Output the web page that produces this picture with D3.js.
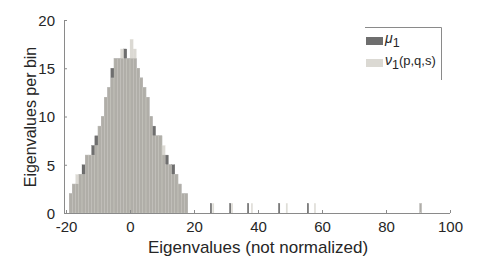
<!DOCTYPE html>
<html>
<head>
<meta charset="utf-8">
<script src="https://cdn.jsdelivr.net/npm/d3@7"></script>
<style>
  body { margin: 0; background: #fff; }
  svg text { font-family: "Liberation Sans", Arial, sans-serif; fill: #262626; }
</style>
</head>
<body>
<svg id="chart" width="498" height="258"></svg>
<script>
// histogram bins (width 1) starting at -19
var binStart = -19,
	binWidth = 1;
var muCounts = [2,3,3,4,5,6,6,7,8,9,10,12,13,15,16,16,16,17,16,16,16,15,14,13,12,10,9,8,8,6,6,5,5,4,3,2,2];
var nuCounts = [2,3,4,4,4,6,6,6,7,9,10,12,13,14,16,16,17,16,16,18,17,15,14,13,12,10,8,8,8,7,5,5,4,4,3,2,2];
// isolated large eigenvalues, one per bin
var muOutliers = [25.3, 31.3, 36.9, 46.6, 55.6, 90.8];
var nuOutliers = [26.0, 31.9, 38.1, 49.0, 57.8, 90.8];
var outlierWidth = 0.45;
var xTicks = [-20, 0, 20, 40, 60, 80, 100];
var yTicks = [0, 5, 10, 15, 20];
var seriesNames = ['\u03bc', '\u03bd'];

(function() {
	var svg = d3.select('#chart');

	var x = d3.scaleLinear()
		.domain([-20, 100])
		.range([66, 450]);

	var y = d3.scaleLinear()
		.domain([0, 20])
		.range([213, 20]);

	var darkColor = '#6e6e6e',
		lightColor = '#ccc9c0',
		lightAlpha = 0.7;

	function toBins(counts) {
		return counts.map(function(c, i) {
			return {x0: binStart + i*binWidth, x1: binStart + (i+1)*binWidth, n: c};
		});
	}
	function outlierBins(vals) {
		return vals.map(function(v) {
			return {x0: v - outlierWidth/2, x1: v + outlierWidth/2, n: 1};
		});
	}

	var muBins = toBins(muCounts).concat(outlierBins(muOutliers)),
		nuBins = toBins(nuCounts).concat(outlierBins(nuOutliers));

	function drawBars(cls, data, fill, alpha, stroke) {
		svg.append('g')
			.attr('class', cls)
			.selectAll('rect')
			.data(data)
			.enter()
			.append('rect')
			.attr('x', function(d) { return x(d.x0); })
			.attr('width', function(d) { return x(d.x1) - x(d.x0); })
			.attr('y', function(d) { return y(d.n); })
			.attr('height', function(d) { return y(0) - y(d.n); })
			.attr('fill', fill)
			.attr('fill-opacity', alpha)
			.attr('stroke', stroke)
			.attr('stroke-width', 0.4)
			.attr('stroke-opacity', 0.6);
	}

	drawBars('mu-bars', muBins, darkColor, 1, '#5a5a5a');
	drawBars('nu-bars', nuBins, lightColor, lightAlpha, '#e4e2dc');

	// axes (plain hyphen for negatives, like the original)
	var fmt = function(d) { return String(d); };

	var xAxis = svg.append('g')
		.attr('transform', 'translate(0,' + y(0) + ')')
		.call(d3.axisBottom(x).tickValues(xTicks).tickFormat(fmt).tickSize(-3).tickPadding(8));

	var yAxis = svg.append('g')
		.attr('transform', 'translate(' + 64 + ',0)')
		.call(d3.axisLeft(y).tickValues(yTicks).tickFormat(fmt).tickSize(-3).tickPadding(9));

	[xAxis, yAxis].forEach(function(a) {
		a.select('.domain').attr('stroke', '#8a8a8a').attr('stroke-width', 1);
		a.selectAll('.tick line').attr('stroke', '#8a8a8a');
		a.selectAll('.tick text')
			.style('font-size', '15px')
			.style('font-family', '"Liberation Sans", Arial, sans-serif')
			.attr('fill', '#262626');
	});
	xAxis.select('.domain').attr('d', 'M' + 64 + ',0.5H' + x(100));
	yAxis.select('.domain').attr('d', 'M0.5,' + y(0) + 'V' + y(20));
	yAxis.selectAll('.tick text').attr('dy', '0.36em');

	// axis titles
	svg.append('text')
		.attr('x', 258)
		.attr('y', 253)
		.attr('text-anchor', 'middle')
		.style('font-size', '17px')
		.text('Eigenvalues (not normalized)');

	svg.append('text')
		.attr('transform', 'translate(36,117) rotate(-90)')
		.attr('text-anchor', 'middle')
		.style('font-size', '16px')
		.text('Eigenvalues per bin');

	// legend
	var legend = svg.append('g').attr('class', 'legend');
	legend.append('path')
		.attr('d', 'M365,27.5H441.5V80')
		.attr('fill', 'none')
		.attr('stroke', '#8a8a8a');

	var entries = [
		{name: seriesNames[0], sub: '1', rest: '', fill: darkColor, alpha: 1, yy: 37},
		{name: seriesNames[1], sub: '1', rest: '(p,q,s)', fill: lightColor, alpha: lightAlpha, yy: 59}
	];
	entries.forEach(function(e) {
		legend.append('rect')
			.attr('x', 366)
			.attr('y', e.yy)
			.attr('width', 17)
			.attr('height', 8)
			.attr('fill', e.fill)
			.attr('fill-opacity', e.alpha);
		var t = legend.append('text')
			.attr('x', 385)
			.attr('y', e.yy + 6)
			.style('font-size', '14px');
		t.append('tspan').style('font-style', 'italic').text(e.name);
		t.append('tspan').attr('dy', 4).style('font-size', '12.5px').text(e.sub);
		if (e.rest) t.append('tspan').attr('dy', -4).style('font-size', '13px').text(e.rest);
	});
})();
</script>
</body>
</html>
